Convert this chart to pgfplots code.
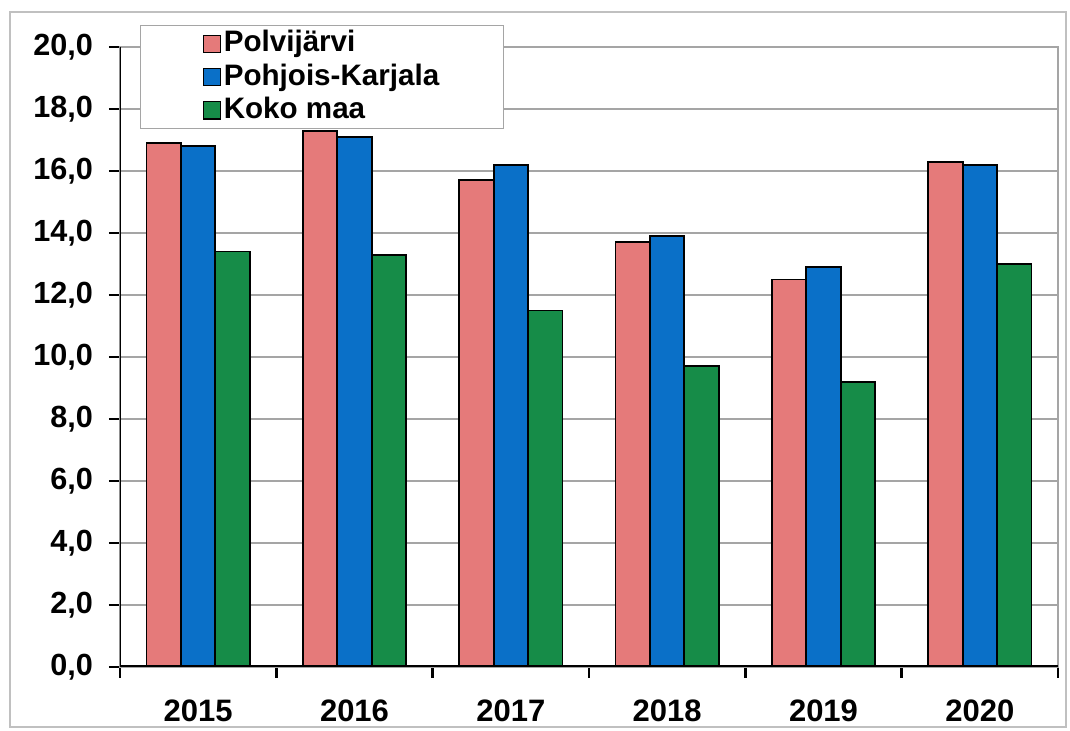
\documentclass[border=0pt]{standalone}
\usepackage{fontspec}
\setmainfont{Liberation Sans}
\usepackage{pgfplots}
\pgfplotsset{compat=1.18}
\definecolor{cP}{RGB}{229,122,122}
\definecolor{cPK}{RGB}{10,112,200}
\definecolor{cK}{RGB}{22,140,72}
\definecolor{gridc}{RGB}{165,165,165}
\begin{document}
\begin{tikzpicture}
\path[use as bounding box] (-60pt,-32pt) rectangle (475pt,333.5pt);
\draw[gridc!70, line width=0.6pt] (-55pt,-30pt) rectangle (473pt,327.5pt);
\begin{axis}[
  at={(0pt,0pt)}, anchor=south west,
  width=469pt, height=310pt, scale only axis,
  xmin=-0.5, xmax=5.5, ymin=0, ymax=20,
  ybar=0pt, bar width=0.22,
  xtick={-0.5,0.5,1.5,2.5,3.5,4.5,5.5}, xticklabels={},
  extra x ticks={0,1,2,3,4,5},
  extra x tick labels={2015,2016,2017,2018,2019,2020},
  extra x tick style={major tick length=0pt, tick style={draw=none}},
  xtick pos=lower, ytick pos=left,
  ytick={0,2,...,20},
  ymajorgrids, grid style={gridc, line width=0.6pt},
  tick align=outside, major tick length=5.5pt,
  tick style={black, line width=1.2pt},
  axis line style={gridc, line width=0.6pt},
  /pgf/number format/assume math mode=true,
  /pgf/number format/.cd, use comma, fixed, fixed zerofill, precision=1,
  /pgfplots/.cd,
  yticklabel style={font=\bfseries\fontsize{15.3}{15}\selectfont, xshift=-4.5pt},
  xticklabel style={font=\bfseries\fontsize{15.5}{15}\selectfont, yshift=-13pt},
  legend style={at={(rel axis cs:0.0213,1.036)}, anchor=north west,
    draw=gridc, fill=white, line width=0.6pt,
    inner xsep=31pt, inner ysep=1pt,
    font=\bfseries\fontsize{14.8}{16}\selectfont,
    nodes={inner sep=1.3pt, text height=11pt, text depth=3pt},
    row sep=0pt},
  legend cell align=left,
  legend image code/.code={\draw[#1, line width=0.7pt] (0pt,-4.3pt) rectangle (8.6pt,4.3pt);},
]
\addplot[fill=cP, draw=black, line width=0.9pt] coordinates {(0,16.9) (1,17.3) (2,15.7) (3,13.7) (4,12.5) (5,16.3)};
\addplot[fill=cPK, draw=black, line width=0.9pt] coordinates {(0,16.8) (1,17.1) (2,16.2) (3,13.9) (4,12.9) (5,16.2)};
\addplot[fill=cK, draw=black, line width=0.9pt] coordinates {(0,13.4) (1,13.3) (2,11.5) (3,9.7) (4,9.2) (5,13.0)};
\legend{Polvijärvi, Pohjois-Karjala, Koko maa}
\draw[black, line width=1.5pt] (rel axis cs:0,1) -- (rel axis cs:0,0) -- (rel axis cs:1,0);
\end{axis}
\end{tikzpicture}
\end{document}
